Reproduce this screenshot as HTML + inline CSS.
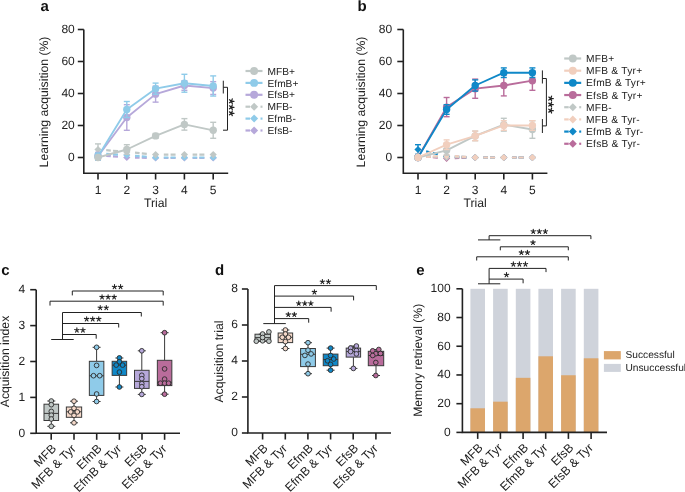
<!DOCTYPE html>
<html><head><meta charset="utf-8"><title>Figure</title>
<style>
html,body{margin:0;padding:0;background:#fff;}
body{width:685px;height:492px;overflow:hidden;}
svg{display:block;font-family:"Liberation Sans", sans-serif;will-change:transform;text-rendering:geometricPrecision;}
</style></head>
<body>
<svg width="685" height="492" viewBox="0 0 685 492">
<rect width="685" height="492" fill="#fff"/>
<text x="40.50" y="11.20" font-size="15" text-anchor="start" fill="#111" font-weight="bold" >a</text>
<text x="357.50" y="11.20" font-size="15" text-anchor="start" fill="#111" font-weight="bold" >b</text>
<text x="1.20" y="274.50" font-size="15" text-anchor="start" fill="#111" font-weight="bold" >c</text>
<text x="215.00" y="274.50" font-size="15" text-anchor="start" fill="#111" font-weight="bold" >d</text>
<text x="416.30" y="274.50" font-size="15" text-anchor="start" fill="#111" font-weight="bold" >e</text>
<path d="M83.8 29.5 L83.8 173.3 L228.2 173.3" stroke="#222222" stroke-width="1.6" fill="none" />
<line x1="77.80" y1="157.50" x2="83.80" y2="157.50" stroke="#222222" stroke-width="1.6" />
<text x="74.80" y="160.80" font-size="12" text-anchor="end" fill="#222222" font-weight="normal" >0</text>
<line x1="77.80" y1="125.50" x2="83.80" y2="125.50" stroke="#222222" stroke-width="1.6" />
<text x="74.80" y="128.80" font-size="12" text-anchor="end" fill="#222222" font-weight="normal" >20</text>
<line x1="77.80" y1="93.50" x2="83.80" y2="93.50" stroke="#222222" stroke-width="1.6" />
<text x="74.80" y="96.80" font-size="12" text-anchor="end" fill="#222222" font-weight="normal" >40</text>
<line x1="77.80" y1="61.50" x2="83.80" y2="61.50" stroke="#222222" stroke-width="1.6" />
<text x="74.80" y="64.80" font-size="12" text-anchor="end" fill="#222222" font-weight="normal" >60</text>
<line x1="77.80" y1="29.50" x2="83.80" y2="29.50" stroke="#222222" stroke-width="1.6" />
<text x="74.80" y="32.80" font-size="12" text-anchor="end" fill="#222222" font-weight="normal" >80</text>
<line x1="98.00" y1="173.30" x2="98.00" y2="179.50" stroke="#222222" stroke-width="1.6" />
<text x="98.00" y="194.00" font-size="12" text-anchor="middle" fill="#222222" font-weight="normal" >1</text>
<line x1="126.80" y1="173.30" x2="126.80" y2="179.50" stroke="#222222" stroke-width="1.6" />
<text x="126.80" y="194.00" font-size="12" text-anchor="middle" fill="#222222" font-weight="normal" >2</text>
<line x1="155.60" y1="173.30" x2="155.60" y2="179.50" stroke="#222222" stroke-width="1.6" />
<text x="155.60" y="194.00" font-size="12" text-anchor="middle" fill="#222222" font-weight="normal" >3</text>
<line x1="184.40" y1="173.30" x2="184.40" y2="179.50" stroke="#222222" stroke-width="1.6" />
<text x="184.40" y="194.00" font-size="12" text-anchor="middle" fill="#222222" font-weight="normal" >4</text>
<line x1="213.20" y1="173.30" x2="213.20" y2="179.50" stroke="#222222" stroke-width="1.6" />
<text x="213.20" y="194.00" font-size="12" text-anchor="middle" fill="#222222" font-weight="normal" >5</text>
<text x="155.60" y="206.80" font-size="12.2" text-anchor="middle" fill="#222222" font-weight="normal" >Trial</text>
<text x="47.50" y="102.00" font-size="12.2" text-anchor="middle" fill="#222222" font-weight="normal" transform="rotate(-90 47.50 102.00)" >Learning acquisition (%)</text>
<path d="M106.21 155.78 L110.79 156.17 M112.98 156.35 L117.99 156.77 M135.01 157.64 L139.59 157.71 M141.78 157.75 L146.79 157.83 M163.81 157.98 L168.39 157.98 M170.58 157.98 L175.59 157.98 M192.61 157.98 L197.19 157.98 M199.38 157.98 L204.39 157.98 " stroke="#b6a8da" stroke-width="2.2" fill="none"/>
<path d="M98.00 151.50 L101.60 155.10 L98.00 158.70 L94.40 155.10 Z" fill="#b6a8da"/>
<path d="M126.80 153.90 L130.40 157.50 L126.80 161.10 L123.20 157.50 Z" fill="#b6a8da"/>
<path d="M155.60 154.38 L159.20 157.98 L155.60 161.58 L152.00 157.98 Z" fill="#b6a8da"/>
<path d="M184.40 154.38 L188.00 157.98 L184.40 161.58 L180.80 157.98 Z" fill="#b6a8da"/>
<path d="M213.20 154.38 L216.80 157.98 L213.20 161.58 L209.60 157.98 Z" fill="#b6a8da"/>
<path d="M106.21 153.96 L110.79 154.21 M112.98 154.33 L117.99 154.61 M135.01 155.78 L139.59 156.17 M141.78 156.35 L146.79 156.77 M163.81 157.50 L168.39 157.50 M170.58 157.50 L175.59 157.50 M192.61 157.50 L197.19 157.50 M199.38 157.50 L204.39 157.50 " stroke="#8fcbe9" stroke-width="2.2" fill="none"/>
<path d="M98.00 149.90 L101.60 153.50 L98.00 157.10 L94.40 153.50 Z" fill="#8fcbe9"/>
<path d="M126.80 151.50 L130.40 155.10 L126.80 158.70 L123.20 155.10 Z" fill="#8fcbe9"/>
<path d="M155.60 153.90 L159.20 157.50 L155.60 161.10 L152.00 157.50 Z" fill="#8fcbe9"/>
<path d="M184.40 153.90 L188.00 157.50 L184.40 161.10 L180.80 157.50 Z" fill="#8fcbe9"/>
<path d="M213.20 153.90 L216.80 157.50 L213.20 161.10 L209.60 157.50 Z" fill="#8fcbe9"/>
<path d="M106.21 150.18 L110.79 150.57 M112.98 150.75 L117.99 151.17 M135.01 152.68 L139.59 153.11 M141.78 153.31 L146.79 153.79 M163.81 154.62 L168.39 154.62 M170.58 154.62 L175.59 154.62 M192.61 154.62 L197.19 154.62 M199.38 154.62 L204.39 154.62 " stroke="#c0c8c6" stroke-width="2.2" fill="none"/>
<line x1="98.00" y1="143.90" x2="98.00" y2="155.10" stroke="#c0c8c6" stroke-width="1.4" />
<line x1="95.00" y1="143.90" x2="101.00" y2="143.90" stroke="#c0c8c6" stroke-width="1.4" />
<line x1="95.00" y1="155.10" x2="101.00" y2="155.10" stroke="#c0c8c6" stroke-width="1.4" />
<path d="M98.00 145.90 L101.60 149.50 L98.00 153.10 L94.40 149.50 Z" fill="#c0c8c6"/>
<path d="M126.80 148.30 L130.40 151.90 L126.80 155.50 L123.20 151.90 Z" fill="#c0c8c6"/>
<path d="M155.60 151.02 L159.20 154.62 L155.60 158.22 L152.00 154.62 Z" fill="#c0c8c6"/>
<path d="M184.40 151.02 L188.00 154.62 L184.40 158.22 L180.80 154.62 Z" fill="#c0c8c6"/>
<path d="M213.20 151.02 L216.80 154.62 L213.20 158.22 L209.60 154.62 Z" fill="#c0c8c6"/>
<path d="M98.00 156.22 L126.80 117.50 L155.60 94.14 L184.40 85.50 L213.20 88.06" stroke="#b6a8da" stroke-width="1.85" fill="none"  stroke-linejoin="round"/>
<line x1="98.00" y1="152.38" x2="98.00" y2="160.06" stroke="#b6a8da" stroke-width="1.4" />
<line x1="95.00" y1="152.38" x2="101.00" y2="152.38" stroke="#b6a8da" stroke-width="1.4" />
<line x1="95.00" y1="160.06" x2="101.00" y2="160.06" stroke="#b6a8da" stroke-width="1.4" />
<circle cx="98.00" cy="156.22" r="3.7" fill="#b6a8da" stroke="none" stroke-width="0"/>
<line x1="126.80" y1="104.70" x2="126.80" y2="130.30" stroke="#b6a8da" stroke-width="1.4" />
<line x1="123.80" y1="104.70" x2="129.80" y2="104.70" stroke="#b6a8da" stroke-width="1.4" />
<line x1="123.80" y1="130.30" x2="129.80" y2="130.30" stroke="#b6a8da" stroke-width="1.4" />
<circle cx="126.80" cy="117.50" r="3.7" fill="#b6a8da" stroke="none" stroke-width="0"/>
<line x1="155.60" y1="86.14" x2="155.60" y2="102.14" stroke="#b6a8da" stroke-width="1.4" />
<line x1="152.60" y1="86.14" x2="158.60" y2="86.14" stroke="#b6a8da" stroke-width="1.4" />
<line x1="152.60" y1="102.14" x2="158.60" y2="102.14" stroke="#b6a8da" stroke-width="1.4" />
<circle cx="155.60" cy="94.14" r="3.7" fill="#b6a8da" stroke="none" stroke-width="0"/>
<line x1="184.40" y1="80.70" x2="184.40" y2="90.30" stroke="#b6a8da" stroke-width="1.4" />
<line x1="181.40" y1="80.70" x2="187.40" y2="80.70" stroke="#b6a8da" stroke-width="1.4" />
<line x1="181.40" y1="90.30" x2="187.40" y2="90.30" stroke="#b6a8da" stroke-width="1.4" />
<circle cx="184.40" cy="85.50" r="3.7" fill="#b6a8da" stroke="none" stroke-width="0"/>
<line x1="213.20" y1="81.66" x2="213.20" y2="94.46" stroke="#b6a8da" stroke-width="1.4" />
<line x1="210.20" y1="81.66" x2="216.20" y2="81.66" stroke="#b6a8da" stroke-width="1.4" />
<line x1="210.20" y1="94.46" x2="216.20" y2="94.46" stroke="#b6a8da" stroke-width="1.4" />
<circle cx="213.20" cy="88.06" r="3.7" fill="#b6a8da" stroke="none" stroke-width="0"/>
<path d="M98.00 156.54 L126.80 109.50 L155.60 88.70 L184.40 83.26 L213.20 85.98" stroke="#8fcbe9" stroke-width="1.85" fill="none"  stroke-linejoin="round"/>
<line x1="98.00" y1="153.02" x2="98.00" y2="160.06" stroke="#8fcbe9" stroke-width="1.4" />
<line x1="95.00" y1="153.02" x2="101.00" y2="153.02" stroke="#8fcbe9" stroke-width="1.4" />
<line x1="95.00" y1="160.06" x2="101.00" y2="160.06" stroke="#8fcbe9" stroke-width="1.4" />
<circle cx="98.00" cy="156.54" r="3.7" fill="#8fcbe9" stroke="none" stroke-width="0"/>
<line x1="126.80" y1="101.50" x2="126.80" y2="117.50" stroke="#8fcbe9" stroke-width="1.4" />
<line x1="123.80" y1="101.50" x2="129.80" y2="101.50" stroke="#8fcbe9" stroke-width="1.4" />
<line x1="123.80" y1="117.50" x2="129.80" y2="117.50" stroke="#8fcbe9" stroke-width="1.4" />
<circle cx="126.80" cy="109.50" r="3.7" fill="#8fcbe9" stroke="none" stroke-width="0"/>
<line x1="155.60" y1="83.10" x2="155.60" y2="94.30" stroke="#8fcbe9" stroke-width="1.4" />
<line x1="152.60" y1="83.10" x2="158.60" y2="83.10" stroke="#8fcbe9" stroke-width="1.4" />
<line x1="152.60" y1="94.30" x2="158.60" y2="94.30" stroke="#8fcbe9" stroke-width="1.4" />
<circle cx="155.60" cy="88.70" r="3.7" fill="#8fcbe9" stroke="none" stroke-width="0"/>
<line x1="184.40" y1="74.30" x2="184.40" y2="92.22" stroke="#8fcbe9" stroke-width="1.4" />
<line x1="181.40" y1="74.30" x2="187.40" y2="74.30" stroke="#8fcbe9" stroke-width="1.4" />
<line x1="181.40" y1="92.22" x2="187.40" y2="92.22" stroke="#8fcbe9" stroke-width="1.4" />
<circle cx="184.40" cy="83.26" r="3.7" fill="#8fcbe9" stroke="none" stroke-width="0"/>
<line x1="213.20" y1="75.90" x2="213.20" y2="96.06" stroke="#8fcbe9" stroke-width="1.4" />
<line x1="210.20" y1="75.90" x2="216.20" y2="75.90" stroke="#8fcbe9" stroke-width="1.4" />
<line x1="210.20" y1="96.06" x2="216.20" y2="96.06" stroke="#8fcbe9" stroke-width="1.4" />
<circle cx="213.20" cy="85.98" r="3.7" fill="#8fcbe9" stroke="none" stroke-width="0"/>
<path d="M98.00 157.50 L126.80 149.50 L155.60 135.90 L184.40 124.38 L213.20 130.30" stroke="#c0c8c6" stroke-width="1.85" fill="none"  stroke-linejoin="round"/>
<circle cx="98.00" cy="157.50" r="3.7" fill="#c0c8c6" stroke="none" stroke-width="0"/>
<line x1="126.80" y1="144.70" x2="126.80" y2="154.30" stroke="#c0c8c6" stroke-width="1.4" />
<line x1="123.80" y1="144.70" x2="129.80" y2="144.70" stroke="#c0c8c6" stroke-width="1.4" />
<line x1="123.80" y1="154.30" x2="129.80" y2="154.30" stroke="#c0c8c6" stroke-width="1.4" />
<circle cx="126.80" cy="149.50" r="3.7" fill="#c0c8c6" stroke="none" stroke-width="0"/>
<line x1="155.60" y1="133.50" x2="155.60" y2="138.30" stroke="#c0c8c6" stroke-width="1.4" />
<line x1="152.60" y1="133.50" x2="158.60" y2="133.50" stroke="#c0c8c6" stroke-width="1.4" />
<line x1="152.60" y1="138.30" x2="158.60" y2="138.30" stroke="#c0c8c6" stroke-width="1.4" />
<circle cx="155.60" cy="135.90" r="3.7" fill="#c0c8c6" stroke="none" stroke-width="0"/>
<line x1="184.40" y1="118.62" x2="184.40" y2="130.14" stroke="#c0c8c6" stroke-width="1.4" />
<line x1="181.40" y1="118.62" x2="187.40" y2="118.62" stroke="#c0c8c6" stroke-width="1.4" />
<line x1="181.40" y1="130.14" x2="187.40" y2="130.14" stroke="#c0c8c6" stroke-width="1.4" />
<circle cx="184.40" cy="124.38" r="3.7" fill="#c0c8c6" stroke="none" stroke-width="0"/>
<line x1="213.20" y1="122.30" x2="213.20" y2="138.30" stroke="#c0c8c6" stroke-width="1.4" />
<line x1="210.20" y1="122.30" x2="216.20" y2="122.30" stroke="#c0c8c6" stroke-width="1.4" />
<line x1="210.20" y1="138.30" x2="216.20" y2="138.30" stroke="#c0c8c6" stroke-width="1.4" />
<circle cx="213.20" cy="130.30" r="3.7" fill="#c0c8c6" stroke="none" stroke-width="0"/>
<line x1="245.50" y1="71.00" x2="262.50" y2="71.00" stroke="#c0c8c6" stroke-width="2.2" />
<circle cx="254.10" cy="71.00" r="3.95" fill="#c0c8c6" stroke="none" stroke-width="0"/>
<text x="267.50" y="74.60" font-size="10.2" text-anchor="start" fill="#222222" font-weight="normal" letter-spacing="0">MFB+</text>
<line x1="245.50" y1="82.90" x2="262.50" y2="82.90" stroke="#8fcbe9" stroke-width="2.2" />
<circle cx="254.10" cy="82.90" r="3.95" fill="#8fcbe9" stroke="none" stroke-width="0"/>
<text x="267.50" y="86.50" font-size="10.2" text-anchor="start" fill="#222222" font-weight="normal" letter-spacing="0">EfmB+</text>
<line x1="245.50" y1="94.80" x2="262.50" y2="94.80" stroke="#b6a8da" stroke-width="2.2" />
<circle cx="254.10" cy="94.80" r="3.95" fill="#b6a8da" stroke="none" stroke-width="0"/>
<text x="267.50" y="98.40" font-size="10.2" text-anchor="start" fill="#222222" font-weight="normal" letter-spacing="0">EfsB+</text>
<line x1="245.50" y1="106.70" x2="250.00" y2="106.70" stroke="#c0c8c6" stroke-width="2.2" />
<line x1="260.50" y1="106.70" x2="262.50" y2="106.70" stroke="#c0c8c6" stroke-width="2.2" />
<path d="M254.10 102.70 L258.10 106.70 L254.10 110.70 L250.10 106.70 Z" fill="#c0c8c6"/>
<text x="267.50" y="110.30" font-size="10.2" text-anchor="start" fill="#222222" font-weight="normal" letter-spacing="0">MFB-</text>
<line x1="245.50" y1="118.60" x2="250.00" y2="118.60" stroke="#8fcbe9" stroke-width="2.2" />
<line x1="260.50" y1="118.60" x2="262.50" y2="118.60" stroke="#8fcbe9" stroke-width="2.2" />
<path d="M254.10 114.60 L258.10 118.60 L254.10 122.60 L250.10 118.60 Z" fill="#8fcbe9"/>
<text x="267.50" y="122.20" font-size="10.2" text-anchor="start" fill="#222222" font-weight="normal" letter-spacing="0">EfmB-</text>
<line x1="245.50" y1="130.50" x2="250.00" y2="130.50" stroke="#b6a8da" stroke-width="2.2" />
<line x1="260.50" y1="130.50" x2="262.50" y2="130.50" stroke="#b6a8da" stroke-width="2.2" />
<path d="M254.10 126.50 L258.10 130.50 L254.10 134.50 L250.10 130.50 Z" fill="#b6a8da"/>
<text x="267.50" y="134.10" font-size="10.2" text-anchor="start" fill="#222222" font-weight="normal" letter-spacing="0">EfsB-</text>
<path d="M223.3 80.7 L223.3 93.5 M223.3 87.3 L227.5 87.3 L227.5 130.2 L223 130.2" stroke="#222222" stroke-width="1.0" fill="none" />
<path d="M231.50 101.25 L234.00 101.25 M231.50 101.25 L232.27 103.63 M231.50 101.25 L229.48 102.72 M231.50 101.25 L229.48 99.78 M231.50 101.25 L232.27 98.87 " stroke="#222222" stroke-width="1.25" fill="none" stroke-linecap="round"/>
<path d="M231.50 107.30 L234.00 107.30 M231.50 107.30 L232.27 109.68 M231.50 107.30 L229.48 108.77 M231.50 107.30 L229.48 105.83 M231.50 107.30 L232.27 104.92 " stroke="#222222" stroke-width="1.25" fill="none" stroke-linecap="round"/>
<path d="M231.50 113.35 L234.00 113.35 M231.50 113.35 L232.27 115.73 M231.50 113.35 L229.48 114.82 M231.50 113.35 L229.48 111.88 M231.50 113.35 L232.27 110.97 " stroke="#222222" stroke-width="1.25" fill="none" stroke-linecap="round"/>
<path d="M403.3 29.5 L403.3 173.3 L547.4 173.3" stroke="#222222" stroke-width="1.6" fill="none" />
<line x1="397.30" y1="157.50" x2="403.30" y2="157.50" stroke="#222222" stroke-width="1.6" />
<text x="392.20" y="160.80" font-size="12" text-anchor="end" fill="#222222" font-weight="normal" >0</text>
<line x1="397.30" y1="125.50" x2="403.30" y2="125.50" stroke="#222222" stroke-width="1.6" />
<text x="392.20" y="128.80" font-size="12" text-anchor="end" fill="#222222" font-weight="normal" >20</text>
<line x1="397.30" y1="93.50" x2="403.30" y2="93.50" stroke="#222222" stroke-width="1.6" />
<text x="392.20" y="96.80" font-size="12" text-anchor="end" fill="#222222" font-weight="normal" >40</text>
<line x1="397.30" y1="61.50" x2="403.30" y2="61.50" stroke="#222222" stroke-width="1.6" />
<text x="392.20" y="64.80" font-size="12" text-anchor="end" fill="#222222" font-weight="normal" >60</text>
<line x1="397.30" y1="29.50" x2="403.30" y2="29.50" stroke="#222222" stroke-width="1.6" />
<text x="392.20" y="32.80" font-size="12" text-anchor="end" fill="#222222" font-weight="normal" >80</text>
<line x1="418.00" y1="173.30" x2="418.00" y2="179.50" stroke="#222222" stroke-width="1.6" />
<text x="418.00" y="194.00" font-size="12" text-anchor="middle" fill="#222222" font-weight="normal" >1</text>
<line x1="446.60" y1="173.30" x2="446.60" y2="179.50" stroke="#222222" stroke-width="1.6" />
<text x="446.60" y="194.00" font-size="12" text-anchor="middle" fill="#222222" font-weight="normal" >2</text>
<line x1="475.20" y1="173.30" x2="475.20" y2="179.50" stroke="#222222" stroke-width="1.6" />
<text x="475.20" y="194.00" font-size="12" text-anchor="middle" fill="#222222" font-weight="normal" >3</text>
<line x1="503.80" y1="173.30" x2="503.80" y2="179.50" stroke="#222222" stroke-width="1.6" />
<text x="503.80" y="194.00" font-size="12" text-anchor="middle" fill="#222222" font-weight="normal" >4</text>
<line x1="532.40" y1="173.30" x2="532.40" y2="179.50" stroke="#222222" stroke-width="1.6" />
<text x="532.40" y="194.00" font-size="12" text-anchor="middle" fill="#222222" font-weight="normal" >5</text>
<text x="475.20" y="206.80" font-size="12.2" text-anchor="middle" fill="#222222" font-weight="normal" >Trial</text>
<text x="365.30" y="102.00" font-size="12.2" text-anchor="middle" fill="#222222" font-weight="normal" transform="rotate(-90 365.30 102.00)" >Learning acquisition (%)</text>
<path d="M426.15 156.58 L430.70 156.97 M432.87 157.15 L437.85 157.57 M454.75 158.07 L459.30 157.94 M461.47 157.88 L466.45 157.74 M483.35 157.50 L487.90 157.50 M490.07 157.50 L495.05 157.50 M511.95 157.50 L516.50 157.50 M518.67 157.50 L523.65 157.50 " stroke="#b96c9b" stroke-width="2.2" fill="none"/>
<path d="M418.00 152.30 L421.60 155.90 L418.00 159.50 L414.40 155.90 Z" fill="#b96c9b"/>
<path d="M446.60 154.70 L450.20 158.30 L446.60 161.90 L443.00 158.30 Z" fill="#b96c9b"/>
<path d="M475.20 153.90 L478.80 157.50 L475.20 161.10 L471.60 157.50 Z" fill="#b96c9b"/>
<path d="M503.80 153.90 L507.40 157.50 L503.80 161.10 L500.20 157.50 Z" fill="#b96c9b"/>
<path d="M532.40 153.90 L536.00 157.50 L532.40 161.10 L528.80 157.50 Z" fill="#b96c9b"/>
<path d="M426.15 151.42 L430.70 152.48 M432.87 152.99 L437.85 154.16 M454.75 156.58 L459.30 156.79 M461.47 156.89 L466.45 157.11 M483.35 157.50 L487.90 157.50 M490.07 157.50 L495.05 157.50 M511.95 157.50 L516.50 157.50 M518.67 157.50 L523.65 157.50 " stroke="#0f88c8" stroke-width="2.2" fill="none"/>
<line x1="418.00" y1="144.70" x2="418.00" y2="154.30" stroke="#0f88c8" stroke-width="1.4" />
<line x1="415.00" y1="144.70" x2="421.00" y2="144.70" stroke="#0f88c8" stroke-width="1.4" />
<line x1="415.00" y1="154.30" x2="421.00" y2="154.30" stroke="#0f88c8" stroke-width="1.4" />
<path d="M418.00 145.90 L421.60 149.50 L418.00 153.10 L414.40 149.50 Z" fill="#0f88c8"/>
<path d="M446.60 152.62 L450.20 156.22 L446.60 159.82 L443.00 156.22 Z" fill="#0f88c8"/>
<path d="M475.20 153.90 L478.80 157.50 L475.20 161.10 L471.60 157.50 Z" fill="#0f88c8"/>
<path d="M503.80 153.90 L507.40 157.50 L503.80 161.10 L500.20 157.50 Z" fill="#0f88c8"/>
<path d="M532.40 153.90 L536.00 157.50 L532.40 161.10 L528.80 157.50 Z" fill="#0f88c8"/>
<path d="M426.15 156.36 L430.70 156.61 M432.87 156.73 L437.85 157.01 M454.75 157.50 L459.30 157.50 M461.47 157.50 L466.45 157.50 M483.35 157.50 L487.90 157.50 M490.07 157.50 L495.05 157.50 M511.95 157.50 L516.50 157.50 M518.67 157.50 L523.65 157.50 " stroke="#c0c8c6" stroke-width="2.2" fill="none"/>
<path d="M418.00 152.30 L421.60 155.90 L418.00 159.50 L414.40 155.90 Z" fill="#c0c8c6"/>
<path d="M446.60 153.90 L450.20 157.50 L446.60 161.10 L443.00 157.50 Z" fill="#c0c8c6"/>
<path d="M475.20 153.90 L478.80 157.50 L475.20 161.10 L471.60 157.50 Z" fill="#c0c8c6"/>
<path d="M503.80 153.90 L507.40 157.50 L503.80 161.10 L500.20 157.50 Z" fill="#c0c8c6"/>
<path d="M532.40 153.90 L536.00 157.50 L532.40 161.10 L528.80 157.50 Z" fill="#c0c8c6"/>
<path d="M426.15 156.95 L430.70 156.65 M432.87 156.50 L437.85 156.17 M454.75 156.13 L459.30 156.43 M461.47 156.58 L466.45 156.91 M483.35 157.50 L487.90 157.50 M490.07 157.50 L495.05 157.50 M511.95 157.50 L516.50 157.50 M518.67 157.50 L523.65 157.50 " stroke="#f1cfbe" stroke-width="2.2" fill="none"/>
<path d="M418.00 153.90 L421.60 157.50 L418.00 161.10 L414.40 157.50 Z" fill="#f1cfbe"/>
<path d="M446.60 151.98 L450.20 155.58 L446.60 159.18 L443.00 155.58 Z" fill="#f1cfbe"/>
<path d="M475.20 153.90 L478.80 157.50 L475.20 161.10 L471.60 157.50 Z" fill="#f1cfbe"/>
<path d="M503.80 153.90 L507.40 157.50 L503.80 161.10 L500.20 157.50 Z" fill="#f1cfbe"/>
<path d="M532.40 153.90 L536.00 157.50 L532.40 161.10 L528.80 157.50 Z" fill="#f1cfbe"/>
<path d="M418.00 157.50 L446.60 107.10 L475.20 88.70 L503.80 85.50 L532.40 80.70" stroke="#b96c9b" stroke-width="1.85" fill="none"  stroke-linejoin="round"/>
<line x1="418.00" y1="155.90" x2="418.00" y2="159.10" stroke="#b96c9b" stroke-width="1.4" />
<line x1="415.00" y1="155.90" x2="421.00" y2="155.90" stroke="#b96c9b" stroke-width="1.4" />
<line x1="415.00" y1="159.10" x2="421.00" y2="159.10" stroke="#b96c9b" stroke-width="1.4" />
<circle cx="418.00" cy="157.50" r="3.7" fill="#b96c9b" stroke="none" stroke-width="0"/>
<line x1="446.60" y1="97.50" x2="446.60" y2="116.70" stroke="#b96c9b" stroke-width="1.4" />
<line x1="443.60" y1="97.50" x2="449.60" y2="97.50" stroke="#b96c9b" stroke-width="1.4" />
<line x1="443.60" y1="116.70" x2="449.60" y2="116.70" stroke="#b96c9b" stroke-width="1.4" />
<circle cx="446.60" cy="107.10" r="3.7" fill="#b96c9b" stroke="none" stroke-width="0"/>
<line x1="475.20" y1="79.10" x2="475.20" y2="98.30" stroke="#b96c9b" stroke-width="1.4" />
<line x1="472.20" y1="79.10" x2="478.20" y2="79.10" stroke="#b96c9b" stroke-width="1.4" />
<line x1="472.20" y1="98.30" x2="478.20" y2="98.30" stroke="#b96c9b" stroke-width="1.4" />
<circle cx="475.20" cy="88.70" r="3.7" fill="#b96c9b" stroke="none" stroke-width="0"/>
<line x1="503.80" y1="75.10" x2="503.80" y2="95.90" stroke="#b96c9b" stroke-width="1.4" />
<line x1="500.80" y1="75.10" x2="506.80" y2="75.10" stroke="#b96c9b" stroke-width="1.4" />
<line x1="500.80" y1="95.90" x2="506.80" y2="95.90" stroke="#b96c9b" stroke-width="1.4" />
<circle cx="503.80" cy="85.50" r="3.7" fill="#b96c9b" stroke="none" stroke-width="0"/>
<line x1="532.40" y1="71.10" x2="532.40" y2="90.30" stroke="#b96c9b" stroke-width="1.4" />
<line x1="529.40" y1="71.10" x2="535.40" y2="71.10" stroke="#b96c9b" stroke-width="1.4" />
<line x1="529.40" y1="90.30" x2="535.40" y2="90.30" stroke="#b96c9b" stroke-width="1.4" />
<circle cx="532.40" cy="80.70" r="3.7" fill="#b96c9b" stroke="none" stroke-width="0"/>
<path d="M418.00 157.50 L446.60 109.50 L475.20 85.50 L503.80 72.70 L532.40 72.70" stroke="#0f88c8" stroke-width="1.85" fill="none"  stroke-linejoin="round"/>
<line x1="418.00" y1="155.90" x2="418.00" y2="159.10" stroke="#0f88c8" stroke-width="1.4" />
<line x1="415.00" y1="155.90" x2="421.00" y2="155.90" stroke="#0f88c8" stroke-width="1.4" />
<line x1="415.00" y1="159.10" x2="421.00" y2="159.10" stroke="#0f88c8" stroke-width="1.4" />
<circle cx="418.00" cy="157.50" r="3.7" fill="#0f88c8" stroke="none" stroke-width="0"/>
<line x1="446.60" y1="104.70" x2="446.60" y2="114.30" stroke="#0f88c8" stroke-width="1.4" />
<line x1="443.60" y1="104.70" x2="449.60" y2="104.70" stroke="#0f88c8" stroke-width="1.4" />
<line x1="443.60" y1="114.30" x2="449.60" y2="114.30" stroke="#0f88c8" stroke-width="1.4" />
<circle cx="446.60" cy="109.50" r="3.7" fill="#0f88c8" stroke="none" stroke-width="0"/>
<line x1="475.20" y1="79.90" x2="475.20" y2="91.10" stroke="#0f88c8" stroke-width="1.4" />
<line x1="472.20" y1="79.90" x2="478.20" y2="79.90" stroke="#0f88c8" stroke-width="1.4" />
<line x1="472.20" y1="91.10" x2="478.20" y2="91.10" stroke="#0f88c8" stroke-width="1.4" />
<circle cx="475.20" cy="85.50" r="3.7" fill="#0f88c8" stroke="none" stroke-width="0"/>
<line x1="503.80" y1="67.90" x2="503.80" y2="77.50" stroke="#0f88c8" stroke-width="1.4" />
<line x1="500.80" y1="67.90" x2="506.80" y2="67.90" stroke="#0f88c8" stroke-width="1.4" />
<line x1="500.80" y1="77.50" x2="506.80" y2="77.50" stroke="#0f88c8" stroke-width="1.4" />
<circle cx="503.80" cy="72.70" r="3.7" fill="#0f88c8" stroke="none" stroke-width="0"/>
<line x1="532.40" y1="67.90" x2="532.40" y2="77.50" stroke="#0f88c8" stroke-width="1.4" />
<line x1="529.40" y1="67.90" x2="535.40" y2="67.90" stroke="#0f88c8" stroke-width="1.4" />
<line x1="529.40" y1="77.50" x2="535.40" y2="77.50" stroke="#0f88c8" stroke-width="1.4" />
<circle cx="532.40" cy="72.70" r="3.7" fill="#0f88c8" stroke="none" stroke-width="0"/>
<path d="M418.00 157.50 L446.60 150.30 L475.20 135.90 L503.80 124.70 L532.40 129.50" stroke="#c0c8c6" stroke-width="1.85" fill="none"  stroke-linejoin="round"/>
<line x1="418.00" y1="155.90" x2="418.00" y2="159.10" stroke="#c0c8c6" stroke-width="1.4" />
<line x1="415.00" y1="155.90" x2="421.00" y2="155.90" stroke="#c0c8c6" stroke-width="1.4" />
<line x1="415.00" y1="159.10" x2="421.00" y2="159.10" stroke="#c0c8c6" stroke-width="1.4" />
<circle cx="418.00" cy="157.50" r="3.7" fill="#c0c8c6" stroke="none" stroke-width="0"/>
<line x1="446.60" y1="145.50" x2="446.60" y2="155.10" stroke="#c0c8c6" stroke-width="1.4" />
<line x1="443.60" y1="145.50" x2="449.60" y2="145.50" stroke="#c0c8c6" stroke-width="1.4" />
<line x1="443.60" y1="155.10" x2="449.60" y2="155.10" stroke="#c0c8c6" stroke-width="1.4" />
<circle cx="446.60" cy="150.30" r="3.7" fill="#c0c8c6" stroke="none" stroke-width="0"/>
<line x1="475.20" y1="131.10" x2="475.20" y2="140.70" stroke="#c0c8c6" stroke-width="1.4" />
<line x1="472.20" y1="131.10" x2="478.20" y2="131.10" stroke="#c0c8c6" stroke-width="1.4" />
<line x1="472.20" y1="140.70" x2="478.20" y2="140.70" stroke="#c0c8c6" stroke-width="1.4" />
<circle cx="475.20" cy="135.90" r="3.7" fill="#c0c8c6" stroke="none" stroke-width="0"/>
<line x1="503.80" y1="118.30" x2="503.80" y2="131.10" stroke="#c0c8c6" stroke-width="1.4" />
<line x1="500.80" y1="118.30" x2="506.80" y2="118.30" stroke="#c0c8c6" stroke-width="1.4" />
<line x1="500.80" y1="131.10" x2="506.80" y2="131.10" stroke="#c0c8c6" stroke-width="1.4" />
<circle cx="503.80" cy="124.70" r="3.7" fill="#c0c8c6" stroke="none" stroke-width="0"/>
<line x1="532.40" y1="120.70" x2="532.40" y2="138.30" stroke="#c0c8c6" stroke-width="1.4" />
<line x1="529.40" y1="120.70" x2="535.40" y2="120.70" stroke="#c0c8c6" stroke-width="1.4" />
<line x1="529.40" y1="138.30" x2="535.40" y2="138.30" stroke="#c0c8c6" stroke-width="1.4" />
<circle cx="532.40" cy="129.50" r="3.7" fill="#c0c8c6" stroke="none" stroke-width="0"/>
<path d="M418.00 157.50 L446.60 144.70 L475.20 135.90 L503.80 125.50 L532.40 125.50" stroke="#f1cfbe" stroke-width="1.85" fill="none"  stroke-linejoin="round"/>
<line x1="418.00" y1="155.90" x2="418.00" y2="159.10" stroke="#f1cfbe" stroke-width="1.4" />
<line x1="415.00" y1="155.90" x2="421.00" y2="155.90" stroke="#f1cfbe" stroke-width="1.4" />
<line x1="415.00" y1="159.10" x2="421.00" y2="159.10" stroke="#f1cfbe" stroke-width="1.4" />
<circle cx="418.00" cy="157.50" r="3.7" fill="#f1cfbe" stroke="none" stroke-width="0"/>
<line x1="446.60" y1="139.90" x2="446.60" y2="149.50" stroke="#f1cfbe" stroke-width="1.4" />
<line x1="443.60" y1="139.90" x2="449.60" y2="139.90" stroke="#f1cfbe" stroke-width="1.4" />
<line x1="443.60" y1="149.50" x2="449.60" y2="149.50" stroke="#f1cfbe" stroke-width="1.4" />
<circle cx="446.60" cy="144.70" r="3.7" fill="#f1cfbe" stroke="none" stroke-width="0"/>
<line x1="475.20" y1="131.10" x2="475.20" y2="140.70" stroke="#f1cfbe" stroke-width="1.4" />
<line x1="472.20" y1="131.10" x2="478.20" y2="131.10" stroke="#f1cfbe" stroke-width="1.4" />
<line x1="472.20" y1="140.70" x2="478.20" y2="140.70" stroke="#f1cfbe" stroke-width="1.4" />
<circle cx="475.20" cy="135.90" r="3.7" fill="#f1cfbe" stroke="none" stroke-width="0"/>
<line x1="503.80" y1="120.70" x2="503.80" y2="130.30" stroke="#f1cfbe" stroke-width="1.4" />
<line x1="500.80" y1="120.70" x2="506.80" y2="120.70" stroke="#f1cfbe" stroke-width="1.4" />
<line x1="500.80" y1="130.30" x2="506.80" y2="130.30" stroke="#f1cfbe" stroke-width="1.4" />
<circle cx="503.80" cy="125.50" r="3.7" fill="#f1cfbe" stroke="none" stroke-width="0"/>
<line x1="532.40" y1="120.70" x2="532.40" y2="130.30" stroke="#f1cfbe" stroke-width="1.4" />
<line x1="529.40" y1="120.70" x2="535.40" y2="120.70" stroke="#f1cfbe" stroke-width="1.4" />
<line x1="529.40" y1="130.30" x2="535.40" y2="130.30" stroke="#f1cfbe" stroke-width="1.4" />
<circle cx="532.40" cy="125.50" r="3.7" fill="#f1cfbe" stroke="none" stroke-width="0"/>
<line x1="564.20" y1="58.50" x2="581.20" y2="58.50" stroke="#c0c8c6" stroke-width="2.2" />
<circle cx="572.80" cy="58.50" r="3.95" fill="#c0c8c6" stroke="none" stroke-width="0"/>
<text x="586.00" y="62.10" font-size="10.2" text-anchor="start" fill="#222222" font-weight="normal" letter-spacing="0.25">MFB+</text>
<line x1="564.20" y1="70.68" x2="581.20" y2="70.68" stroke="#f1cfbe" stroke-width="2.2" />
<circle cx="572.80" cy="70.68" r="3.95" fill="#f1cfbe" stroke="none" stroke-width="0"/>
<text x="586.00" y="74.28" font-size="10.2" text-anchor="start" fill="#222222" font-weight="normal" letter-spacing="0.25">MFB &amp; Tyr+</text>
<line x1="564.20" y1="82.86" x2="581.20" y2="82.86" stroke="#0f88c8" stroke-width="2.2" />
<circle cx="572.80" cy="82.86" r="3.95" fill="#0f88c8" stroke="none" stroke-width="0"/>
<text x="586.00" y="86.46" font-size="10.2" text-anchor="start" fill="#222222" font-weight="normal" letter-spacing="0.25">EfmB &amp; Tyr+</text>
<line x1="564.20" y1="95.04" x2="581.20" y2="95.04" stroke="#b96c9b" stroke-width="2.2" />
<circle cx="572.80" cy="95.04" r="3.95" fill="#b96c9b" stroke="none" stroke-width="0"/>
<text x="586.00" y="98.64" font-size="10.2" text-anchor="start" fill="#222222" font-weight="normal" letter-spacing="0.25">EfsB &amp; Tyr+</text>
<line x1="564.20" y1="107.22" x2="568.70" y2="107.22" stroke="#c0c8c6" stroke-width="2.2" />
<line x1="579.20" y1="107.22" x2="581.20" y2="107.22" stroke="#c0c8c6" stroke-width="2.2" />
<path d="M572.80 103.22 L576.80 107.22 L572.80 111.22 L568.80 107.22 Z" fill="#c0c8c6"/>
<text x="586.00" y="110.82" font-size="10.2" text-anchor="start" fill="#222222" font-weight="normal" letter-spacing="0.25">MFB-</text>
<line x1="564.20" y1="119.40" x2="568.70" y2="119.40" stroke="#f1cfbe" stroke-width="2.2" />
<line x1="579.20" y1="119.40" x2="581.20" y2="119.40" stroke="#f1cfbe" stroke-width="2.2" />
<path d="M572.80 115.40 L576.80 119.40 L572.80 123.40 L568.80 119.40 Z" fill="#f1cfbe"/>
<text x="586.00" y="123.00" font-size="10.2" text-anchor="start" fill="#222222" font-weight="normal" letter-spacing="0.25">MFB &amp; Tyr-</text>
<line x1="564.20" y1="131.58" x2="568.70" y2="131.58" stroke="#0f88c8" stroke-width="2.2" />
<line x1="579.20" y1="131.58" x2="581.20" y2="131.58" stroke="#0f88c8" stroke-width="2.2" />
<path d="M572.80 127.58 L576.80 131.58 L572.80 135.58 L568.80 131.58 Z" fill="#0f88c8"/>
<text x="586.00" y="135.18" font-size="10.2" text-anchor="start" fill="#222222" font-weight="normal" letter-spacing="0.25">EfmB &amp; Tyr-</text>
<line x1="564.20" y1="143.76" x2="568.70" y2="143.76" stroke="#b96c9b" stroke-width="2.2" />
<line x1="579.20" y1="143.76" x2="581.20" y2="143.76" stroke="#b96c9b" stroke-width="2.2" />
<path d="M572.80 139.76 L576.80 143.76 L572.80 147.76 L568.80 143.76 Z" fill="#b96c9b"/>
<text x="586.00" y="147.36" font-size="10.2" text-anchor="start" fill="#222222" font-weight="normal" letter-spacing="0.25">EfsB &amp; Tyr-</text>
<path d="M542.4 70.4 L542.4 83.5 M542.4 78.5 L546.4 78.5 L546.4 125.9 L542.4 125.9 M542.4 119 L542.4 133" stroke="#222222" stroke-width="1.0" fill="none" />
<path d="M550.80 98.55 L553.30 98.55 M550.80 98.55 L551.57 100.93 M550.80 98.55 L548.78 100.02 M550.80 98.55 L548.78 97.08 M550.80 98.55 L551.57 96.17 " stroke="#222222" stroke-width="1.25" fill="none" stroke-linecap="round"/>
<path d="M550.80 104.60 L553.30 104.60 M550.80 104.60 L551.57 106.98 M550.80 104.60 L548.78 106.07 M550.80 104.60 L548.78 103.13 M550.80 104.60 L551.57 102.22 " stroke="#222222" stroke-width="1.25" fill="none" stroke-linecap="round"/>
<path d="M550.80 110.65 L553.30 110.65 M550.80 110.65 L551.57 113.03 M550.80 110.65 L548.78 112.12 M550.80 110.65 L548.78 109.18 M550.80 110.65 L551.57 108.27 " stroke="#222222" stroke-width="1.25" fill="none" stroke-linecap="round"/>
<path d="M36.2 289.70000000000005 L36.2 433.3 L180 433.3" stroke="#222222" stroke-width="1.6" fill="none" />
<line x1="30.20" y1="433.30" x2="36.20" y2="433.30" stroke="#222222" stroke-width="1.6" />
<text x="25.20" y="436.60" font-size="12" text-anchor="end" fill="#222222" font-weight="normal" >0</text>
<line x1="30.20" y1="397.40" x2="36.20" y2="397.40" stroke="#222222" stroke-width="1.6" />
<text x="25.20" y="400.70" font-size="12" text-anchor="end" fill="#222222" font-weight="normal" >1</text>
<line x1="30.20" y1="361.50" x2="36.20" y2="361.50" stroke="#222222" stroke-width="1.6" />
<text x="25.20" y="364.80" font-size="12" text-anchor="end" fill="#222222" font-weight="normal" >2</text>
<line x1="30.20" y1="325.60" x2="36.20" y2="325.60" stroke="#222222" stroke-width="1.6" />
<text x="25.20" y="328.90" font-size="12" text-anchor="end" fill="#222222" font-weight="normal" >3</text>
<line x1="30.20" y1="289.70" x2="36.20" y2="289.70" stroke="#222222" stroke-width="1.6" />
<text x="25.20" y="293.00" font-size="12" text-anchor="end" fill="#222222" font-weight="normal" >4</text>
<line x1="51.20" y1="433.30" x2="51.20" y2="439.80" stroke="#222222" stroke-width="1.6" />
<line x1="74.00" y1="433.30" x2="74.00" y2="439.80" stroke="#222222" stroke-width="1.6" />
<line x1="96.70" y1="433.30" x2="96.70" y2="439.80" stroke="#222222" stroke-width="1.6" />
<line x1="119.40" y1="433.30" x2="119.40" y2="439.80" stroke="#222222" stroke-width="1.6" />
<line x1="142.00" y1="433.30" x2="142.00" y2="439.80" stroke="#222222" stroke-width="1.6" />
<line x1="164.60" y1="433.30" x2="164.60" y2="439.80" stroke="#222222" stroke-width="1.6" />
<text x="57.00" y="449.30" font-size="12.2" text-anchor="end" fill="#222222" font-weight="normal" transform="rotate(-45 57.00 449.30)" >MFB</text>
<text x="76.70" y="449.30" font-size="12.2" text-anchor="end" fill="#222222" font-weight="normal" transform="rotate(-45 76.70 449.30)" >MFB &amp; Tyr</text>
<text x="102.50" y="449.30" font-size="12.2" text-anchor="end" fill="#222222" font-weight="normal" transform="rotate(-45 102.50 449.30)" >EfmB</text>
<text x="122.10" y="449.30" font-size="12.2" text-anchor="end" fill="#222222" font-weight="normal" transform="rotate(-45 122.10 449.30)" >EfmB &amp; Tyr</text>
<text x="147.80" y="449.30" font-size="12.2" text-anchor="end" fill="#222222" font-weight="normal" transform="rotate(-45 147.80 449.30)" >EfsB</text>
<text x="167.30" y="449.30" font-size="12.2" text-anchor="end" fill="#222222" font-weight="normal" transform="rotate(-45 167.30 449.30)" >EfsB &amp; Tyr</text>
<text x="8.70" y="361.50" font-size="12.2" text-anchor="middle" fill="#222222" font-weight="normal" transform="rotate(-90 8.70 361.50)" >Acquisition index</text>
<line x1="51.30" y1="401.00" x2="51.30" y2="404.20" stroke="#3a3a3a" stroke-width="1.0" />
<line x1="51.30" y1="420.50" x2="51.30" y2="426.30" stroke="#3a3a3a" stroke-width="1.0" />
<rect x="44.00" y="404.20" width="14.60" height="16.30" fill="#c0c8c6" stroke="#3a3a3a" stroke-width="1.0"/>
<line x1="44.00" y1="413.40" x2="58.60" y2="413.40" stroke="#3a3a3a" stroke-width="1.0" />
<line x1="47.30" y1="401.00" x2="55.30" y2="401.00" stroke="#3a3a3a" stroke-width="1.0" />
<line x1="47.30" y1="426.30" x2="55.30" y2="426.30" stroke="#3a3a3a" stroke-width="1.0" />
<circle cx="51.30" cy="401.00" r="2.35" fill="#c0c8c6" stroke="#2b2b2b" stroke-width="0.9"/>
<circle cx="51.30" cy="404.70" r="2.35" fill="#c0c8c6" stroke="#2b2b2b" stroke-width="0.9"/>
<circle cx="51.30" cy="411.40" r="2.35" fill="#c0c8c6" stroke="#2b2b2b" stroke-width="0.9"/>
<circle cx="51.30" cy="415.20" r="2.35" fill="#c0c8c6" stroke="#2b2b2b" stroke-width="0.9"/>
<circle cx="51.30" cy="419.00" r="2.35" fill="#c0c8c6" stroke="#2b2b2b" stroke-width="0.9"/>
<circle cx="51.30" cy="426.30" r="2.35" fill="#c0c8c6" stroke="#2b2b2b" stroke-width="0.9"/>
<line x1="74.00" y1="401.20" x2="74.00" y2="407.00" stroke="#3a3a3a" stroke-width="1.0" />
<line x1="74.00" y1="417.30" x2="74.00" y2="422.80" stroke="#3a3a3a" stroke-width="1.0" />
<rect x="66.35" y="407.00" width="15.30" height="10.30" fill="#f5d9ca" stroke="#3a3a3a" stroke-width="1.0"/>
<line x1="66.35" y1="411.80" x2="81.65" y2="411.80" stroke="#3a3a3a" stroke-width="1.0" />
<line x1="70.00" y1="401.20" x2="78.00" y2="401.20" stroke="#3a3a3a" stroke-width="1.0" />
<line x1="70.00" y1="422.80" x2="78.00" y2="422.80" stroke="#3a3a3a" stroke-width="1.0" />
<circle cx="74.00" cy="401.20" r="2.35" fill="#f5d9ca" stroke="#2b2b2b" stroke-width="0.9"/>
<circle cx="74.00" cy="408.30" r="2.35" fill="#f5d9ca" stroke="#2b2b2b" stroke-width="0.9"/>
<circle cx="70.70" cy="411.90" r="2.35" fill="#f5d9ca" stroke="#2b2b2b" stroke-width="0.9"/>
<circle cx="77.30" cy="411.90" r="2.35" fill="#f5d9ca" stroke="#2b2b2b" stroke-width="0.9"/>
<circle cx="74.00" cy="415.40" r="2.35" fill="#f5d9ca" stroke="#2b2b2b" stroke-width="0.9"/>
<circle cx="74.00" cy="422.80" r="2.35" fill="#f5d9ca" stroke="#2b2b2b" stroke-width="0.9"/>
<line x1="96.60" y1="347.30" x2="96.60" y2="361.30" stroke="#3a3a3a" stroke-width="1.0" />
<line x1="96.60" y1="395.40" x2="96.60" y2="401.50" stroke="#3a3a3a" stroke-width="1.0" />
<rect x="89.35" y="361.30" width="14.50" height="34.10" fill="#8fcbe9" stroke="#3a3a3a" stroke-width="1.0"/>
<line x1="89.35" y1="375.80" x2="103.85" y2="375.80" stroke="#3a3a3a" stroke-width="1.0" />
<line x1="92.60" y1="347.30" x2="100.60" y2="347.30" stroke="#3a3a3a" stroke-width="1.0" />
<line x1="92.60" y1="401.50" x2="100.60" y2="401.50" stroke="#3a3a3a" stroke-width="1.0" />
<circle cx="96.60" cy="347.30" r="2.35" fill="#8fcbe9" stroke="#2b2b2b" stroke-width="0.9"/>
<circle cx="96.60" cy="365.40" r="2.35" fill="#8fcbe9" stroke="#2b2b2b" stroke-width="0.9"/>
<circle cx="93.50" cy="375.70" r="2.35" fill="#8fcbe9" stroke="#2b2b2b" stroke-width="0.9"/>
<circle cx="99.70" cy="375.70" r="2.35" fill="#8fcbe9" stroke="#2b2b2b" stroke-width="0.9"/>
<circle cx="96.60" cy="394.00" r="2.35" fill="#8fcbe9" stroke="#2b2b2b" stroke-width="0.9"/>
<circle cx="96.60" cy="401.50" r="2.35" fill="#8fcbe9" stroke="#2b2b2b" stroke-width="0.9"/>
<line x1="119.40" y1="358.00" x2="119.40" y2="361.30" stroke="#3a3a3a" stroke-width="1.0" />
<line x1="119.40" y1="375.40" x2="119.40" y2="387.00" stroke="#3a3a3a" stroke-width="1.0" />
<rect x="112.15" y="361.30" width="14.50" height="14.10" fill="#0f88c8" stroke="#3a3a3a" stroke-width="1.0"/>
<line x1="112.15" y1="365.20" x2="126.65" y2="365.20" stroke="#3a3a3a" stroke-width="1.0" />
<line x1="115.40" y1="358.00" x2="123.40" y2="358.00" stroke="#3a3a3a" stroke-width="1.0" />
<line x1="115.40" y1="387.00" x2="123.40" y2="387.00" stroke="#3a3a3a" stroke-width="1.0" />
<circle cx="119.40" cy="357.90" r="2.35" fill="#0f88c8" stroke="#2b2b2b" stroke-width="0.9"/>
<circle cx="119.40" cy="361.80" r="2.35" fill="#0f88c8" stroke="#2b2b2b" stroke-width="0.9"/>
<circle cx="116.20" cy="365.10" r="2.35" fill="#0f88c8" stroke="#2b2b2b" stroke-width="0.9"/>
<circle cx="122.60" cy="365.10" r="2.35" fill="#0f88c8" stroke="#2b2b2b" stroke-width="0.9"/>
<circle cx="119.40" cy="372.10" r="2.35" fill="#0f88c8" stroke="#2b2b2b" stroke-width="0.9"/>
<circle cx="119.40" cy="387.00" r="2.35" fill="#0f88c8" stroke="#2b2b2b" stroke-width="0.9"/>
<line x1="141.80" y1="350.80" x2="141.80" y2="370.30" stroke="#3a3a3a" stroke-width="1.0" />
<line x1="141.80" y1="388.40" x2="141.80" y2="394.40" stroke="#3a3a3a" stroke-width="1.0" />
<rect x="134.50" y="370.30" width="14.60" height="18.10" fill="#b6a8da" stroke="#3a3a3a" stroke-width="1.0"/>
<line x1="134.50" y1="381.40" x2="149.10" y2="381.40" stroke="#3a3a3a" stroke-width="1.0" />
<line x1="137.80" y1="350.80" x2="145.80" y2="350.80" stroke="#3a3a3a" stroke-width="1.0" />
<line x1="137.80" y1="394.40" x2="145.80" y2="394.40" stroke="#3a3a3a" stroke-width="1.0" />
<circle cx="141.80" cy="350.80" r="2.35" fill="#b6a8da" stroke="#2b2b2b" stroke-width="0.9"/>
<circle cx="141.80" cy="375.30" r="2.35" fill="#b6a8da" stroke="#2b2b2b" stroke-width="0.9"/>
<circle cx="141.80" cy="378.70" r="2.35" fill="#b6a8da" stroke="#2b2b2b" stroke-width="0.9"/>
<circle cx="141.80" cy="383.70" r="2.35" fill="#b6a8da" stroke="#2b2b2b" stroke-width="0.9"/>
<circle cx="141.80" cy="386.70" r="2.35" fill="#b6a8da" stroke="#2b2b2b" stroke-width="0.9"/>
<circle cx="141.80" cy="394.40" r="2.35" fill="#b6a8da" stroke="#2b2b2b" stroke-width="0.9"/>
<line x1="164.60" y1="332.70" x2="164.60" y2="360.30" stroke="#3a3a3a" stroke-width="1.0" />
<line x1="164.60" y1="385.60" x2="164.60" y2="394.20" stroke="#3a3a3a" stroke-width="1.0" />
<rect x="157.35" y="360.30" width="14.50" height="25.30" fill="#b96c9b" stroke="#3a3a3a" stroke-width="1.0"/>
<line x1="157.35" y1="382.30" x2="171.85" y2="382.30" stroke="#3a3a3a" stroke-width="1.0" />
<line x1="160.60" y1="332.70" x2="168.60" y2="332.70" stroke="#3a3a3a" stroke-width="1.0" />
<line x1="160.60" y1="394.20" x2="168.60" y2="394.20" stroke="#3a3a3a" stroke-width="1.0" />
<circle cx="164.60" cy="332.70" r="2.35" fill="#b96c9b" stroke="#2b2b2b" stroke-width="0.9"/>
<circle cx="164.60" cy="368.90" r="2.35" fill="#b96c9b" stroke="#2b2b2b" stroke-width="0.9"/>
<circle cx="164.60" cy="379.10" r="2.35" fill="#b96c9b" stroke="#2b2b2b" stroke-width="0.9"/>
<circle cx="160.40" cy="383.20" r="2.35" fill="#b96c9b" stroke="#2b2b2b" stroke-width="0.9"/>
<circle cx="164.60" cy="383.20" r="2.35" fill="#b96c9b" stroke="#2b2b2b" stroke-width="0.9"/>
<circle cx="168.60" cy="383.20" r="2.35" fill="#b96c9b" stroke="#2b2b2b" stroke-width="0.9"/>
<circle cx="164.60" cy="394.20" r="2.35" fill="#b96c9b" stroke="#2b2b2b" stroke-width="0.9"/>
<path d="M72.3 295.4 L72.3 291.0 L163.2 291.0 L163.2 295.4" stroke="#222222" stroke-width="1.0" fill="none" />
<path d="M114.52 286.90 L114.52 284.60 M114.52 286.90 L116.71 286.19 M114.52 286.90 L115.88 288.76 M114.52 286.90 L113.17 288.76 M114.52 286.90 L112.34 286.19 " stroke="#222222" stroke-width="1.1" fill="none" stroke-linecap="round"/>
<path d="M120.58 286.90 L120.58 284.60 M120.58 286.90 L122.76 286.19 M120.58 286.90 L121.93 288.76 M120.58 286.90 L119.22 288.76 M120.58 286.90 L118.39 286.19 " stroke="#222222" stroke-width="1.1" fill="none" stroke-linecap="round"/>
<path d="M50 305.6 L50 301.2 L163.2 301.2 L163.2 305.6" stroke="#222222" stroke-width="1.0" fill="none" />
<path d="M102.05 297.10 L102.05 294.80 M102.05 297.10 L104.24 296.39 M102.05 297.10 L103.40 298.96 M102.05 297.10 L100.70 298.96 M102.05 297.10 L99.86 296.39 " stroke="#222222" stroke-width="1.1" fill="none" stroke-linecap="round"/>
<path d="M108.10 297.10 L108.10 294.80 M108.10 297.10 L110.29 296.39 M108.10 297.10 L109.45 298.96 M108.10 297.10 L106.75 298.96 M108.10 297.10 L105.91 296.39 " stroke="#222222" stroke-width="1.1" fill="none" stroke-linecap="round"/>
<path d="M114.15 297.10 L114.15 294.80 M114.15 297.10 L116.34 296.39 M114.15 297.10 L115.50 298.96 M114.15 297.10 L112.80 298.96 M114.15 297.10 L111.96 296.39 " stroke="#222222" stroke-width="1.1" fill="none" stroke-linecap="round"/>
<path d="M62.5 339.5 L62.5 312.5 L141.3 312.5 L141.3 316.5 M62.5 323.5 L118.7 323.5 L118.7 327.5 M62.5 334.5 L96.2 334.5 L96.2 338.7 M51.2 339.5 L73.7 339.5" stroke="#222222" stroke-width="1.0" fill="none" />
<path d="M100.22 307.80 L100.22 305.50 M100.22 307.80 L102.41 307.09 M100.22 307.80 L101.58 309.66 M100.22 307.80 L98.87 309.66 M100.22 307.80 L98.04 307.09 " stroke="#222222" stroke-width="1.1" fill="none" stroke-linecap="round"/>
<path d="M106.28 307.80 L106.28 305.50 M106.28 307.80 L108.46 307.09 M106.28 307.80 L107.63 309.66 M106.28 307.80 L104.92 309.66 M106.28 307.80 L104.09 307.09 " stroke="#222222" stroke-width="1.1" fill="none" stroke-linecap="round"/>
<path d="M86.65 319.10 L86.65 316.80 M86.65 319.10 L88.84 318.39 M86.65 319.10 L88.00 320.96 M86.65 319.10 L85.30 320.96 M86.65 319.10 L84.46 318.39 " stroke="#222222" stroke-width="1.1" fill="none" stroke-linecap="round"/>
<path d="M92.70 319.10 L92.70 316.80 M92.70 319.10 L94.89 318.39 M92.70 319.10 L94.05 320.96 M92.70 319.10 L91.35 320.96 M92.70 319.10 L90.51 318.39 " stroke="#222222" stroke-width="1.1" fill="none" stroke-linecap="round"/>
<path d="M98.75 319.10 L98.75 316.80 M98.75 319.10 L100.94 318.39 M98.75 319.10 L100.10 320.96 M98.75 319.10 L97.40 320.96 M98.75 319.10 L96.56 318.39 " stroke="#222222" stroke-width="1.1" fill="none" stroke-linecap="round"/>
<path d="M76.88 330.20 L76.88 327.90 M76.88 330.20 L79.06 329.49 M76.88 330.20 L78.23 332.06 M76.88 330.20 L75.52 332.06 M76.88 330.20 L74.69 329.49 " stroke="#222222" stroke-width="1.1" fill="none" stroke-linecap="round"/>
<path d="M82.93 330.20 L82.93 327.90 M82.93 330.20 L85.11 329.49 M82.93 330.20 L84.28 332.06 M82.93 330.20 L81.57 332.06 M82.93 330.20 L80.74 329.49 " stroke="#222222" stroke-width="1.1" fill="none" stroke-linecap="round"/>
<path d="M247.9 289.0 L247.9 433.0 L391 433.0" stroke="#222222" stroke-width="1.6" fill="none" />
<line x1="241.90" y1="433.00" x2="247.90" y2="433.00" stroke="#222222" stroke-width="1.6" />
<text x="237.90" y="436.30" font-size="12" text-anchor="end" fill="#222222" font-weight="normal" >0</text>
<line x1="241.90" y1="397.00" x2="247.90" y2="397.00" stroke="#222222" stroke-width="1.6" />
<text x="237.90" y="400.30" font-size="12" text-anchor="end" fill="#222222" font-weight="normal" >2</text>
<line x1="241.90" y1="361.00" x2="247.90" y2="361.00" stroke="#222222" stroke-width="1.6" />
<text x="237.90" y="364.30" font-size="12" text-anchor="end" fill="#222222" font-weight="normal" >4</text>
<line x1="241.90" y1="325.00" x2="247.90" y2="325.00" stroke="#222222" stroke-width="1.6" />
<text x="237.90" y="328.30" font-size="12" text-anchor="end" fill="#222222" font-weight="normal" >6</text>
<line x1="241.90" y1="289.00" x2="247.90" y2="289.00" stroke="#222222" stroke-width="1.6" />
<text x="237.90" y="292.30" font-size="12" text-anchor="end" fill="#222222" font-weight="normal" >8</text>
<line x1="262.60" y1="433.00" x2="262.60" y2="439.50" stroke="#222222" stroke-width="1.6" />
<line x1="285.30" y1="433.00" x2="285.30" y2="439.50" stroke="#222222" stroke-width="1.6" />
<line x1="307.90" y1="433.00" x2="307.90" y2="439.50" stroke="#222222" stroke-width="1.6" />
<line x1="330.60" y1="433.00" x2="330.60" y2="439.50" stroke="#222222" stroke-width="1.6" />
<line x1="353.20" y1="433.00" x2="353.20" y2="439.50" stroke="#222222" stroke-width="1.6" />
<line x1="375.90" y1="433.00" x2="375.90" y2="439.50" stroke="#222222" stroke-width="1.6" />
<text x="268.40" y="449.00" font-size="12.2" text-anchor="end" fill="#222222" font-weight="normal" transform="rotate(-45 268.40 449.00)" >MFB</text>
<text x="288.00" y="449.00" font-size="12.2" text-anchor="end" fill="#222222" font-weight="normal" transform="rotate(-45 288.00 449.00)" >MFB &amp; Tyr</text>
<text x="313.70" y="449.00" font-size="12.2" text-anchor="end" fill="#222222" font-weight="normal" transform="rotate(-45 313.70 449.00)" >EfmB</text>
<text x="333.30" y="449.00" font-size="12.2" text-anchor="end" fill="#222222" font-weight="normal" transform="rotate(-45 333.30 449.00)" >EfmB &amp; Tyr</text>
<text x="359.00" y="449.00" font-size="12.2" text-anchor="end" fill="#222222" font-weight="normal" transform="rotate(-45 359.00 449.00)" >EfsB</text>
<text x="378.60" y="449.00" font-size="12.2" text-anchor="end" fill="#222222" font-weight="normal" transform="rotate(-45 378.60 449.00)" >EfsB &amp; Tyr</text>
<text x="222.90" y="361.60" font-size="12.2" text-anchor="middle" fill="#222222" font-weight="normal" transform="rotate(-90 222.90 361.60)" >Acquisition trial</text>
<line x1="262.80" y1="334.20" x2="262.80" y2="334.20" stroke="#3a3a3a" stroke-width="1.0" />
<line x1="262.80" y1="341.20" x2="262.80" y2="341.20" stroke="#3a3a3a" stroke-width="1.0" />
<rect x="255.00" y="334.20" width="15.60" height="7.00" fill="#c0c8c6" stroke="#3a3a3a" stroke-width="1.0"/>
<line x1="255.00" y1="337.60" x2="270.60" y2="337.60" stroke="#3a3a3a" stroke-width="1.0" />
<line x1="258.80" y1="334.20" x2="266.80" y2="334.20" stroke="#3a3a3a" stroke-width="1.0" />
<line x1="258.80" y1="341.20" x2="266.80" y2="341.20" stroke="#3a3a3a" stroke-width="1.0" />
<circle cx="256.30" cy="341.20" r="2.35" fill="#c0c8c6" stroke="#2b2b2b" stroke-width="0.9"/>
<circle cx="262.60" cy="340.80" r="2.35" fill="#c0c8c6" stroke="#2b2b2b" stroke-width="0.9"/>
<circle cx="268.90" cy="341.20" r="2.35" fill="#c0c8c6" stroke="#2b2b2b" stroke-width="0.9"/>
<circle cx="262.60" cy="334.00" r="2.35" fill="#c0c8c6" stroke="#2b2b2b" stroke-width="0.9"/>
<circle cx="268.90" cy="331.90" r="2.35" fill="#c0c8c6" stroke="#2b2b2b" stroke-width="0.9"/>
<circle cx="262.60" cy="337.50" r="2.35" fill="#c0c8c6" stroke="#2b2b2b" stroke-width="0.9"/>
<line x1="285.40" y1="330.00" x2="285.40" y2="333.00" stroke="#3a3a3a" stroke-width="1.0" />
<line x1="285.40" y1="342.60" x2="285.40" y2="348.50" stroke="#3a3a3a" stroke-width="1.0" />
<rect x="278.15" y="333.00" width="14.50" height="9.60" fill="#f5d9ca" stroke="#3a3a3a" stroke-width="1.0"/>
<line x1="278.15" y1="337.30" x2="292.65" y2="337.30" stroke="#3a3a3a" stroke-width="1.0" />
<line x1="281.40" y1="330.00" x2="289.40" y2="330.00" stroke="#3a3a3a" stroke-width="1.0" />
<line x1="281.40" y1="348.50" x2="289.40" y2="348.50" stroke="#3a3a3a" stroke-width="1.0" />
<circle cx="285.40" cy="330.00" r="2.35" fill="#f5d9ca" stroke="#2b2b2b" stroke-width="0.9"/>
<circle cx="285.40" cy="334.00" r="2.35" fill="#f5d9ca" stroke="#2b2b2b" stroke-width="0.9"/>
<circle cx="282.30" cy="337.30" r="2.35" fill="#f5d9ca" stroke="#2b2b2b" stroke-width="0.9"/>
<circle cx="288.50" cy="337.30" r="2.35" fill="#f5d9ca" stroke="#2b2b2b" stroke-width="0.9"/>
<circle cx="285.40" cy="341.60" r="2.35" fill="#f5d9ca" stroke="#2b2b2b" stroke-width="0.9"/>
<circle cx="285.40" cy="348.50" r="2.35" fill="#f5d9ca" stroke="#2b2b2b" stroke-width="0.9"/>
<line x1="308.00" y1="342.70" x2="308.00" y2="348.50" stroke="#3a3a3a" stroke-width="1.0" />
<line x1="308.00" y1="366.60" x2="308.00" y2="373.70" stroke="#3a3a3a" stroke-width="1.0" />
<rect x="300.60" y="348.50" width="14.80" height="18.10" fill="#8fcbe9" stroke="#3a3a3a" stroke-width="1.0"/>
<line x1="300.60" y1="354.30" x2="315.40" y2="354.30" stroke="#3a3a3a" stroke-width="1.0" />
<line x1="304.00" y1="342.70" x2="312.00" y2="342.70" stroke="#3a3a3a" stroke-width="1.0" />
<line x1="304.00" y1="373.70" x2="312.00" y2="373.70" stroke="#3a3a3a" stroke-width="1.0" />
<circle cx="308.00" cy="342.70" r="2.35" fill="#8fcbe9" stroke="#2b2b2b" stroke-width="0.9"/>
<circle cx="308.00" cy="350.20" r="2.35" fill="#8fcbe9" stroke="#2b2b2b" stroke-width="0.9"/>
<circle cx="304.90" cy="355.40" r="2.35" fill="#8fcbe9" stroke="#2b2b2b" stroke-width="0.9"/>
<circle cx="311.10" cy="353.90" r="2.35" fill="#8fcbe9" stroke="#2b2b2b" stroke-width="0.9"/>
<circle cx="308.00" cy="364.10" r="2.35" fill="#8fcbe9" stroke="#2b2b2b" stroke-width="0.9"/>
<circle cx="308.00" cy="373.70" r="2.35" fill="#8fcbe9" stroke="#2b2b2b" stroke-width="0.9"/>
<line x1="330.60" y1="348.10" x2="330.60" y2="354.10" stroke="#3a3a3a" stroke-width="1.0" />
<line x1="330.60" y1="365.70" x2="330.60" y2="370.20" stroke="#3a3a3a" stroke-width="1.0" />
<rect x="323.25" y="354.10" width="14.70" height="11.60" fill="#0f88c8" stroke="#3a3a3a" stroke-width="1.0"/>
<line x1="323.25" y1="359.50" x2="337.95" y2="359.50" stroke="#3a3a3a" stroke-width="1.0" />
<line x1="326.60" y1="348.10" x2="334.60" y2="348.10" stroke="#3a3a3a" stroke-width="1.0" />
<line x1="326.60" y1="370.20" x2="334.60" y2="370.20" stroke="#3a3a3a" stroke-width="1.0" />
<circle cx="330.60" cy="348.10" r="2.35" fill="#0f88c8" stroke="#2b2b2b" stroke-width="0.9"/>
<circle cx="330.60" cy="355.50" r="2.35" fill="#0f88c8" stroke="#2b2b2b" stroke-width="0.9"/>
<circle cx="327.50" cy="360.80" r="2.35" fill="#0f88c8" stroke="#2b2b2b" stroke-width="0.9"/>
<circle cx="333.70" cy="359.00" r="2.35" fill="#0f88c8" stroke="#2b2b2b" stroke-width="0.9"/>
<circle cx="330.60" cy="364.40" r="2.35" fill="#0f88c8" stroke="#2b2b2b" stroke-width="0.9"/>
<circle cx="330.60" cy="370.20" r="2.35" fill="#0f88c8" stroke="#2b2b2b" stroke-width="0.9"/>
<line x1="353.40" y1="346.00" x2="353.40" y2="348.10" stroke="#3a3a3a" stroke-width="1.0" />
<line x1="353.40" y1="357.10" x2="353.40" y2="368.40" stroke="#3a3a3a" stroke-width="1.0" />
<rect x="346.20" y="348.10" width="14.40" height="9.00" fill="#b6a8da" stroke="#3a3a3a" stroke-width="1.0"/>
<line x1="346.20" y1="351.60" x2="360.60" y2="351.60" stroke="#3a3a3a" stroke-width="1.0" />
<line x1="349.40" y1="346.00" x2="357.40" y2="346.00" stroke="#3a3a3a" stroke-width="1.0" />
<line x1="349.40" y1="368.40" x2="357.40" y2="368.40" stroke="#3a3a3a" stroke-width="1.0" />
<circle cx="350.60" cy="348.10" r="2.35" fill="#b6a8da" stroke="#2b2b2b" stroke-width="0.9"/>
<circle cx="356.40" cy="346.00" r="2.35" fill="#b6a8da" stroke="#2b2b2b" stroke-width="0.9"/>
<circle cx="350.60" cy="351.60" r="2.35" fill="#b6a8da" stroke="#2b2b2b" stroke-width="0.9"/>
<circle cx="356.40" cy="350.50" r="2.35" fill="#b6a8da" stroke="#2b2b2b" stroke-width="0.9"/>
<circle cx="356.40" cy="353.90" r="2.35" fill="#b6a8da" stroke="#2b2b2b" stroke-width="0.9"/>
<circle cx="353.40" cy="368.40" r="2.35" fill="#b6a8da" stroke="#2b2b2b" stroke-width="0.9"/>
<line x1="376.00" y1="349.50" x2="376.00" y2="351.30" stroke="#3a3a3a" stroke-width="1.0" />
<line x1="376.00" y1="365.70" x2="376.00" y2="375.50" stroke="#3a3a3a" stroke-width="1.0" />
<rect x="368.30" y="351.30" width="15.40" height="14.40" fill="#b96c9b" stroke="#3a3a3a" stroke-width="1.0"/>
<line x1="368.30" y1="355.50" x2="383.70" y2="355.50" stroke="#3a3a3a" stroke-width="1.0" />
<line x1="372.00" y1="349.50" x2="380.00" y2="349.50" stroke="#3a3a3a" stroke-width="1.0" />
<line x1="372.00" y1="375.50" x2="380.00" y2="375.50" stroke="#3a3a3a" stroke-width="1.0" />
<circle cx="372.70" cy="350.80" r="2.35" fill="#b96c9b" stroke="#2b2b2b" stroke-width="0.9"/>
<circle cx="378.80" cy="349.50" r="2.35" fill="#b96c9b" stroke="#2b2b2b" stroke-width="0.9"/>
<circle cx="375.80" cy="353.70" r="2.35" fill="#b96c9b" stroke="#2b2b2b" stroke-width="0.9"/>
<circle cx="372.70" cy="355.50" r="2.35" fill="#b96c9b" stroke="#2b2b2b" stroke-width="0.9"/>
<circle cx="380.50" cy="353.50" r="2.35" fill="#b96c9b" stroke="#2b2b2b" stroke-width="0.9"/>
<circle cx="375.80" cy="362.50" r="2.35" fill="#b96c9b" stroke="#2b2b2b" stroke-width="0.9"/>
<circle cx="375.80" cy="375.50" r="2.35" fill="#b96c9b" stroke="#2b2b2b" stroke-width="0.9"/>
<path d="M274.5 323.5 L274.5 285.6 L376.3 285.6 L376.3 290 M274.5 296.1 L353.6 296.1 L353.6 300.4 M274.5 307.4 L331.1 307.4 L331.1 311.7 M274.5 318.6 L308.7 318.6 L308.7 322.7 M263.3 323.6 L285.8 323.6" stroke="#222222" stroke-width="1.0" fill="none" />
<path d="M322.38 281.80 L322.38 279.50 M322.38 281.80 L324.56 281.09 M322.38 281.80 L323.73 283.66 M322.38 281.80 L321.02 283.66 M322.38 281.80 L320.19 281.09 " stroke="#222222" stroke-width="1.1" fill="none" stroke-linecap="round"/>
<path d="M328.42 281.80 L328.42 279.50 M328.42 281.80 L330.61 281.09 M328.42 281.80 L329.78 283.66 M328.42 281.80 L327.07 283.66 M328.42 281.80 L326.24 281.09 " stroke="#222222" stroke-width="1.1" fill="none" stroke-linecap="round"/>
<path d="M314.40 292.10 L314.40 289.80 M314.40 292.10 L316.59 291.39 M314.40 292.10 L315.75 293.96 M314.40 292.10 L313.05 293.96 M314.40 292.10 L312.21 291.39 " stroke="#222222" stroke-width="1.1" fill="none" stroke-linecap="round"/>
<path d="M298.75 303.40 L298.75 301.10 M298.75 303.40 L300.94 302.69 M298.75 303.40 L300.10 305.26 M298.75 303.40 L297.40 305.26 M298.75 303.40 L296.56 302.69 " stroke="#222222" stroke-width="1.1" fill="none" stroke-linecap="round"/>
<path d="M304.80 303.40 L304.80 301.10 M304.80 303.40 L306.99 302.69 M304.80 303.40 L306.15 305.26 M304.80 303.40 L303.45 305.26 M304.80 303.40 L302.61 302.69 " stroke="#222222" stroke-width="1.1" fill="none" stroke-linecap="round"/>
<path d="M310.85 303.40 L310.85 301.10 M310.85 303.40 L313.04 302.69 M310.85 303.40 L312.20 305.26 M310.85 303.40 L309.50 305.26 M310.85 303.40 L308.66 302.69 " stroke="#222222" stroke-width="1.1" fill="none" stroke-linecap="round"/>
<path d="M288.28 314.60 L288.28 312.30 M288.28 314.60 L290.46 313.89 M288.28 314.60 L289.63 316.46 M288.28 314.60 L286.92 316.46 M288.28 314.60 L286.09 313.89 " stroke="#222222" stroke-width="1.1" fill="none" stroke-linecap="round"/>
<path d="M294.32 314.60 L294.32 312.30 M294.32 314.60 L296.51 313.89 M294.32 314.60 L295.68 316.46 M294.32 314.60 L292.97 316.46 M294.32 314.60 L292.14 313.89 " stroke="#222222" stroke-width="1.1" fill="none" stroke-linecap="round"/>
<rect x="470.40" y="288.80" width="14.60" height="143.60" fill="#cfd3db" stroke="none" stroke-width="0"/>
<rect x="470.40" y="408.28" width="14.60" height="24.12" fill="#dca66c" stroke="none" stroke-width="0"/>
<rect x="493.10" y="288.80" width="14.60" height="143.60" fill="#cfd3db" stroke="none" stroke-width="0"/>
<rect x="493.10" y="401.67" width="14.60" height="30.73" fill="#dca66c" stroke="none" stroke-width="0"/>
<rect x="515.80" y="288.80" width="14.60" height="143.60" fill="#cfd3db" stroke="none" stroke-width="0"/>
<rect x="515.80" y="377.83" width="14.60" height="54.57" fill="#dca66c" stroke="none" stroke-width="0"/>
<rect x="538.40" y="288.80" width="14.60" height="143.60" fill="#cfd3db" stroke="none" stroke-width="0"/>
<rect x="538.40" y="356.29" width="14.60" height="76.11" fill="#dca66c" stroke="none" stroke-width="0"/>
<rect x="561.10" y="288.80" width="14.60" height="143.60" fill="#cfd3db" stroke="none" stroke-width="0"/>
<rect x="561.10" y="375.25" width="14.60" height="57.15" fill="#dca66c" stroke="none" stroke-width="0"/>
<rect x="583.80" y="288.80" width="14.60" height="143.60" fill="#cfd3db" stroke="none" stroke-width="0"/>
<rect x="583.80" y="358.30" width="14.60" height="74.10" fill="#dca66c" stroke="none" stroke-width="0"/>
<path d="M462.4 288.79999999999995 L462.4 432.4 L607 432.4" stroke="#222222" stroke-width="1.6" fill="none" />
<line x1="456.40" y1="432.40" x2="462.40" y2="432.40" stroke="#222222" stroke-width="1.6" />
<text x="450.60" y="435.70" font-size="12" text-anchor="end" fill="#222222" font-weight="normal" >0</text>
<line x1="456.40" y1="403.68" x2="462.40" y2="403.68" stroke="#222222" stroke-width="1.6" />
<text x="450.60" y="406.98" font-size="12" text-anchor="end" fill="#222222" font-weight="normal" >20</text>
<line x1="456.40" y1="374.96" x2="462.40" y2="374.96" stroke="#222222" stroke-width="1.6" />
<text x="450.60" y="378.26" font-size="12" text-anchor="end" fill="#222222" font-weight="normal" >40</text>
<line x1="456.40" y1="346.24" x2="462.40" y2="346.24" stroke="#222222" stroke-width="1.6" />
<text x="450.60" y="349.54" font-size="12" text-anchor="end" fill="#222222" font-weight="normal" >60</text>
<line x1="456.40" y1="317.52" x2="462.40" y2="317.52" stroke="#222222" stroke-width="1.6" />
<text x="450.60" y="320.82" font-size="12" text-anchor="end" fill="#222222" font-weight="normal" >80</text>
<line x1="456.40" y1="288.80" x2="462.40" y2="288.80" stroke="#222222" stroke-width="1.6" />
<text x="450.60" y="292.10" font-size="12" text-anchor="end" fill="#222222" font-weight="normal" >100</text>
<line x1="477.70" y1="432.40" x2="477.70" y2="438.90" stroke="#222222" stroke-width="1.6" />
<line x1="500.40" y1="432.40" x2="500.40" y2="438.90" stroke="#222222" stroke-width="1.6" />
<line x1="523.10" y1="432.40" x2="523.10" y2="438.90" stroke="#222222" stroke-width="1.6" />
<line x1="545.70" y1="432.40" x2="545.70" y2="438.90" stroke="#222222" stroke-width="1.6" />
<line x1="568.40" y1="432.40" x2="568.40" y2="438.90" stroke="#222222" stroke-width="1.6" />
<line x1="591.10" y1="432.40" x2="591.10" y2="438.90" stroke="#222222" stroke-width="1.6" />
<text x="483.50" y="448.40" font-size="12.2" text-anchor="end" fill="#222222" font-weight="normal" transform="rotate(-45 483.50 448.40)" >MFB</text>
<text x="503.10" y="448.40" font-size="12.2" text-anchor="end" fill="#222222" font-weight="normal" transform="rotate(-45 503.10 448.40)" >MFB &amp; Tyr</text>
<text x="528.90" y="448.40" font-size="12.2" text-anchor="end" fill="#222222" font-weight="normal" transform="rotate(-45 528.90 448.40)" >EfmB</text>
<text x="548.40" y="448.40" font-size="12.2" text-anchor="end" fill="#222222" font-weight="normal" transform="rotate(-45 548.40 448.40)" >EfmB &amp; Tyr</text>
<text x="574.20" y="448.40" font-size="12.2" text-anchor="end" fill="#222222" font-weight="normal" transform="rotate(-45 574.20 448.40)" >EfsB</text>
<text x="593.80" y="448.40" font-size="12.2" text-anchor="end" fill="#222222" font-weight="normal" transform="rotate(-45 593.80 448.40)" >EfsB &amp; Tyr</text>
<text x="421.70" y="360.30" font-size="12.2" text-anchor="middle" fill="#222222" font-weight="normal" transform="rotate(-90 421.70 360.30)" >Memory retrieval (%)</text>
<rect x="603.90" y="351.10" width="16.90" height="8.30" fill="#dca66c" stroke="none" stroke-width="0"/>
<rect x="603.90" y="363.90" width="16.90" height="8.00" fill="#cfd3db" stroke="none" stroke-width="0"/>
<text x="625.50" y="358.20" font-size="10.2" text-anchor="start" fill="#222222" font-weight="normal" >Successful</text>
<text x="625.50" y="370.60" font-size="10.2" text-anchor="start" fill="#222222" font-weight="normal" >Unsuccessful</text>
<path d="M489.1 239.9 L489.1 235.7 L590.9 235.7 L590.9 239.1 M478 239.9 L500.3 239.9" stroke="#222222" stroke-width="1.0" fill="none" />
<path d="M500.3 250.3 L500.3 246.8 L568.3 246.8 L568.3 250.3" stroke="#222222" stroke-width="1.0" fill="none" />
<path d="M476.7 260.5 L476.7 256.8 L568.3 256.8 L568.3 260.5" stroke="#222222" stroke-width="1.0" fill="none" />
<path d="M489.1 283.8 L489.1 268.4 L546 268.4 L546 272.1 M489.1 279.1 L523.1 279.1 L523.1 283.3 M478 283.8 L500.3 283.8" stroke="#222222" stroke-width="1.0" fill="none" />
<path d="M533.25 231.50 L533.25 229.20 M533.25 231.50 L535.44 230.79 M533.25 231.50 L534.60 233.36 M533.25 231.50 L531.90 233.36 M533.25 231.50 L531.06 230.79 " stroke="#222222" stroke-width="1.1" fill="none" stroke-linecap="round"/>
<path d="M539.30 231.50 L539.30 229.20 M539.30 231.50 L541.49 230.79 M539.30 231.50 L540.65 233.36 M539.30 231.50 L537.95 233.36 M539.30 231.50 L537.11 230.79 " stroke="#222222" stroke-width="1.1" fill="none" stroke-linecap="round"/>
<path d="M545.35 231.50 L545.35 229.20 M545.35 231.50 L547.54 230.79 M545.35 231.50 L546.70 233.36 M545.35 231.50 L544.00 233.36 M545.35 231.50 L543.16 230.79 " stroke="#222222" stroke-width="1.1" fill="none" stroke-linecap="round"/>
<path d="M533.00 242.60 L533.00 240.30 M533.00 242.60 L535.19 241.89 M533.00 242.60 L534.35 244.46 M533.00 242.60 L531.65 244.46 M533.00 242.60 L530.81 241.89 " stroke="#222222" stroke-width="1.1" fill="none" stroke-linecap="round"/>
<path d="M521.38 252.60 L521.38 250.30 M521.38 252.60 L523.56 251.89 M521.38 252.60 L522.73 254.46 M521.38 252.60 L520.02 254.46 M521.38 252.60 L519.19 251.89 " stroke="#222222" stroke-width="1.1" fill="none" stroke-linecap="round"/>
<path d="M527.42 252.60 L527.42 250.30 M527.42 252.60 L529.61 251.89 M527.42 252.60 L528.78 254.46 M527.42 252.60 L526.07 254.46 M527.42 252.60 L525.24 251.89 " stroke="#222222" stroke-width="1.1" fill="none" stroke-linecap="round"/>
<path d="M513.35 264.20 L513.35 261.90 M513.35 264.20 L515.54 263.49 M513.35 264.20 L514.70 266.06 M513.35 264.20 L512.00 266.06 M513.35 264.20 L511.16 263.49 " stroke="#222222" stroke-width="1.1" fill="none" stroke-linecap="round"/>
<path d="M519.40 264.20 L519.40 261.90 M519.40 264.20 L521.59 263.49 M519.40 264.20 L520.75 266.06 M519.40 264.20 L518.05 266.06 M519.40 264.20 L517.21 263.49 " stroke="#222222" stroke-width="1.1" fill="none" stroke-linecap="round"/>
<path d="M525.45 264.20 L525.45 261.90 M525.45 264.20 L527.64 263.49 M525.45 264.20 L526.80 266.06 M525.45 264.20 L524.10 266.06 M525.45 264.20 L523.26 263.49 " stroke="#222222" stroke-width="1.1" fill="none" stroke-linecap="round"/>
<path d="M506.50 274.90 L506.50 272.60 M506.50 274.90 L508.69 274.19 M506.50 274.90 L507.85 276.76 M506.50 274.90 L505.15 276.76 M506.50 274.90 L504.31 274.19 " stroke="#222222" stroke-width="1.1" fill="none" stroke-linecap="round"/>
</svg>
</body></html>
